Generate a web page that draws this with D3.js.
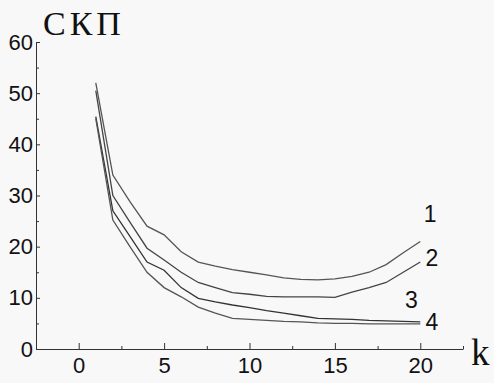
<!DOCTYPE html>
<html><head><meta charset="utf-8">
<script src="https://cdn.jsdelivr.net/npm/d3@7"></script>
<style>
html,body{margin:0;padding:0;background:#f8f8f8;}
svg{display:block;}
</style></head>
<body>
<svg id="c" width="494" height="383"></svg>
<script>
const kValues = [1,2,3,4,5,6,7,8,9,10,11,12,13,14,15,16,17,18,19,20];
const curve1 = [52,34,28.8,24,22.3,19,17,16.2,15.5,15,14.5,13.9,13.6,13.5,13.7,14.2,15,16.5,18.8,21];
const curve2 = [50.5,30,24.8,19.7,17.4,15,13,12,11,10.7,10.3,10.2,10.2,10.2,10.1,11.1,12,13,15,17];
const curve3 = [45.4,27,22,17,15.4,12,9.9,9.2,8.6,8.1,7.5,7,6.5,6,5.9,5.8,5.6,5.5,5.4,5.3];
const curve4 = [45,25.2,20,15,12,10.2,8.2,7,6,5.8,5.6,5.4,5.3,5.1,5,5,4.9,4.9,4.9,4.9];
const curveNames = ["1","2","3","4"];
const xMajorTicks = [0,5,10,15,20];
const xMinorTicks = [-2.5,2.5,7.5,12.5,17.5,22.5];
const yMajorTicks = [0,10,20,30,40,50,60];
const yMinorTicks = [5,15,25,35,45,55];
const yTitle = "СКП";
const xTitle = "k";

const svg = d3.select("#c");
const x = d3.scaleLinear().domain([-2.5,22.5]).range([36,463]);
const y = d3.scaleLinear().domain([0,60]).range([349,42]);

const axisColor = "#333";
const tickFont = "'Liberation Sans', Arial, sans-serif";

// Y axis
svg.append("g").attr("transform",`translate(${x(-2.5)},0)`)
  .call(d3.axisLeft(y).tickValues(yMajorTicks).tickSize(-4).tickSizeOuter(0).tickPadding(3).tickFormat(d3.format("d")));
svg.append("g").attr("transform",`translate(${x(-2.5)},0)`)
  .call(d3.axisLeft(y).tickValues(yMinorTicks).tickSize(-3).tickSizeOuter(0).tickFormat(""))
  .select(".domain").remove();
// X axis
svg.append("g").attr("transform",`translate(0,${y(0)})`)
  .call(d3.axisBottom(x).tickValues(xMajorTicks).tickSize(-6).tickSizeOuter(0).tickPadding(8).tickFormat(d3.format("d")));
svg.append("g").attr("transform",`translate(0,${y(0)})`)
  .call(d3.axisBottom(x).tickValues(xMinorTicks).tickSize(-3).tickSizeOuter(0).tickFormat(""))
  .select(".domain").remove();

svg.selectAll(".domain").attr("stroke",axisColor);
svg.selectAll(".tick line").attr("stroke",axisColor);
svg.selectAll(".tick text").attr("fill","#111").style("font-family",tickFont).style("font-size","22px");

// Curves
const series = [curve1,curve2,curve3,curve4];
const colors = ["#555","#444","#333","#555"];
const line = d3.line().x((d,i)=>x(kValues[i])).y(d=>y(d));
series.forEach((s,i)=>{
  svg.append("path").datum(s).attr("d",line).attr("fill","none")
    .attr("stroke",colors[i]).attr("stroke-width",1.3);
});

// Curve labels
const labelPos = [[20.2,24.8],[20.3,16.2],[19.1,8.0],[20.3,3.7]];
curveNames.forEach((n,i)=>{
  svg.append("text").attr("x",x(labelPos[i][0])).attr("y",y(labelPos[i][1]))
    .text(n).style("font-family",tickFont).style("font-size","23px").attr("fill","#111");
});

// Titles
svg.append("text").attr("x",43).attr("y",35).text(yTitle)
  .style("font-family","'Liberation Serif','Times New Roman',serif").style("font-size","34px")
  .style("letter-spacing","4px").attr("fill","#111");
svg.append("text").attr("x",471).attr("y",365).text(xTitle)
  .style("font-family","'Liberation Serif','Times New Roman',serif").style("font-size","37px").attr("fill","#111");
</script>
</body></html>
